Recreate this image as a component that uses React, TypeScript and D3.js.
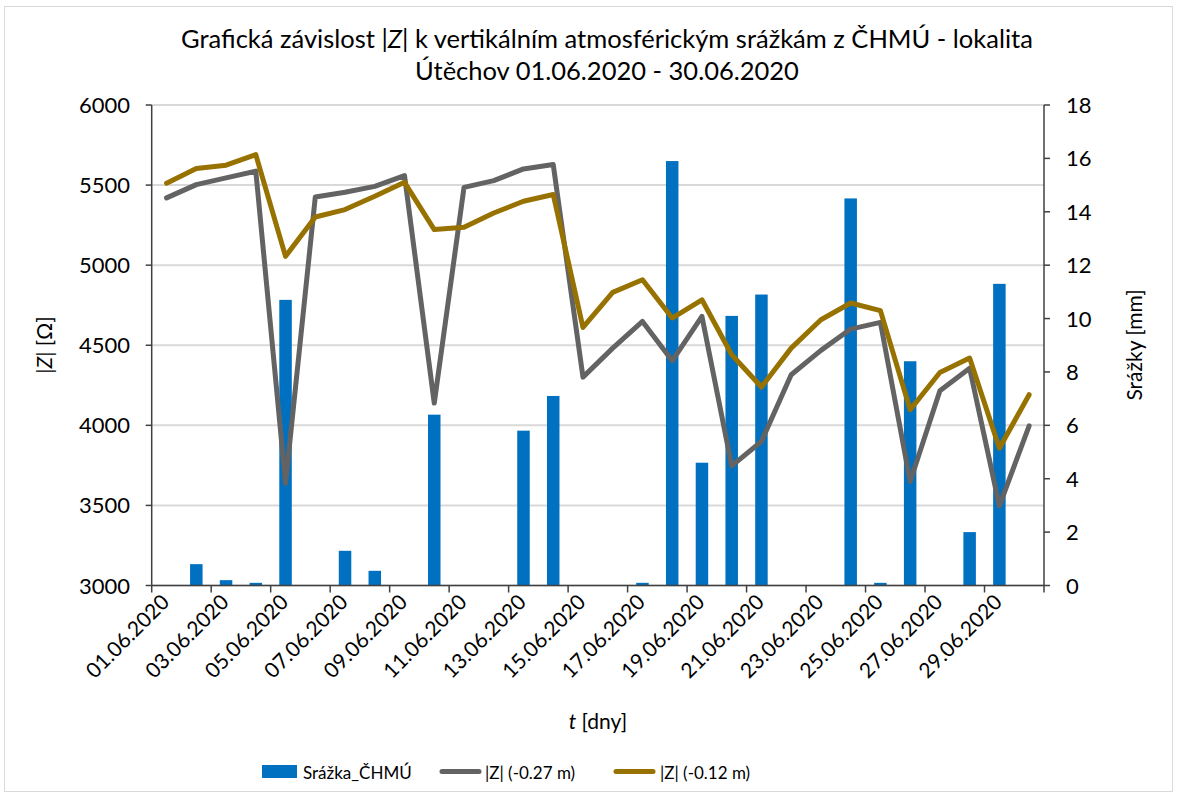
import React from "react";
import * as d3 from "d3";

const dates: string[] = Array.from({ length: 30 }, (_, i) =>
  `${String(i + 1).padStart(2, "0")}.06.2020`
);

const rain: number[] = [
  0, 0.8, 0.2, 0.1, 10.7, 0, 1.3, 0.55, 0, 6.4,
  0, 0, 5.8, 7.1, 0, 0, 0.1, 15.9, 4.6, 10.1,
  10.9, 0, 0, 14.5, 0.1, 8.4, 0, 2.0, 11.3, 0,
];

const z027: number[] = [
  5420, 5503, 5545, 5587, 3639, 5426, 5455, 5492, 5559, 4139,
  5486, 5528, 5601, 5628, 4301, 4482, 4649, 4403, 4680, 3747,
  3899, 4316, 4468, 4601, 4643, 3649, 4216, 4357, 3497, 3997,
];

const z012: number[] = [
  5512, 5603, 5624, 5690, 5055, 5301, 5347, 5430, 5517, 5222,
  5236, 5326, 5399, 5441, 4611, 4830, 4909, 4670, 4784, 4441,
  4239, 4482, 4659, 4764, 4716, 4097, 4330, 4420, 3857, 4191,
];

const leftTicks: number[] = [3000, 3500, 4000, 4500, 5000, 5500, 6000];
const rightTicks: number[] = [0, 2, 4, 6, 8, 10, 12, 14, 16, 18];

const FONT = "Lato, 'Open Sans', sans-serif";

export default function App() {
  const W = 1178;
  const H = 798;
  const left = 151.7;
  const right = 1044;
  const top = 105;
  const bottom = 585.5;

  const x = d3.scaleBand<string>().domain(dates).range([left, right]).padding(0);
  const yL = d3.scaleLinear().domain([3000, 6000]).range([bottom, top]);
  const yR = d3.scaleLinear().domain([0, 18]).range([bottom, top]);
  const bw = x.bandwidth() * 0.42;
  const cx = (i: number) => (x(dates[i]) as number) + x.bandwidth() / 2;

  const line = d3
    .line<number>()
    .x((_, i) => cx(i))
    .y((d) => yL(d));

  const tickIdx = d3.range(0, 31, 2);

  return (
    <svg width={W} height={H} style={{ display: "block", position: "absolute", left: 0, top: 0 }}>
      <rect x={0} y={0} width={W} height={H} fill="#fff" />
      <rect x={4.5} y={6.5} width={1168} height={785} fill="#fff" stroke="#d9d9d9" strokeWidth={1} />
      {/* Title */}
      <text x={607} y={48} textAnchor="middle" fontFamily={FONT} fontSize={25.5} fill="#000">
        Grafická závislost |<tspan fontStyle="italic">Z</tspan>| k vertikálním atmosférickým srážkám z ČHMÚ - lokalita
      </text>
      <text x={607} y={80} textAnchor="middle" fontFamily={FONT} fontSize={25.5} fill="#000">
        Útěchov 01.06.2020 - 30.06.2020
      </text>

      {/* gridlines */}
      {leftTicks.map((t) => (
        <line key={"g" + t} x1={left} x2={right} y1={yL(t)} y2={yL(t)} stroke="#d9d9d9" strokeWidth={2} />
      ))}

      {/* bars */}
      {rain.map((r, i) =>
        r > 0 ? (
          <rect
            key={"b" + i}
            x={cx(i) - bw / 2}
            y={yR(r)}
            width={bw}
            height={bottom - yR(r)}
            fill="#0070c0"
          />
        ) : null
      )}

      {/* lines */}
      <path d={line(z027) || ""} fill="none" stroke="#636363" strokeWidth={5} strokeLinejoin="round" strokeLinecap="round" />
      <path d={line(z012) || ""} fill="none" stroke="#977200" strokeWidth={5} strokeLinejoin="round" strokeLinecap="round" />

      {/* axes */}
      <line x1={left} x2={left} y1={top} y2={bottom} stroke="#404040" strokeWidth={1.5} />
      <line x1={right} x2={right} y1={top} y2={bottom} stroke="#404040" strokeWidth={1.5} />
      <line x1={left} x2={right} y1={bottom} y2={bottom} stroke="#404040" strokeWidth={1.5} />
      {leftTicks.map((t) => (
        <g key={"lt" + t}>
          <line x1={left - 6} x2={left} y1={yL(t)} y2={yL(t)} stroke="#404040" strokeWidth={1.5} />
          <text x={130} y={yL(t) + 8} textAnchor="end" fontFamily={FONT} fontSize={22} fill="#000">
            {t}
          </text>
        </g>
      ))}
      {rightTicks.map((t) => (
        <g key={"rt" + t}>
          <line x1={right} x2={right + 6} y1={yR(t)} y2={yR(t)} stroke="#404040" strokeWidth={1.5} />
          <text x={1066} y={yR(t) + 8} textAnchor="start" fontFamily={FONT} fontSize={22} fill="#000">
            {t}
          </text>
        </g>
      ))}
      {tickIdx.map((k) => {
        const xx = left + k * x.bandwidth();
        return <line key={"xt" + k} x1={xx} x2={xx} y1={bottom} y2={bottom + 7} stroke="#404040" strokeWidth={1.5} />;
      })}
      {dates.map((d, i) =>
        i % 2 === 0 ? (
          <text
            key={"xl" + i}
            transform={`translate(${cx(i) + 4},${bottom + 18}) rotate(-45)`}
            textAnchor="end"
            fontFamily={FONT}
            fontSize={21}
            fill="#000"
          >
            {d}
          </text>
        ) : null
      )}

      {/* axis titles */}
      <text x={598} y={729} textAnchor="middle" fontFamily={FONT} fontSize={21} fill="#000">
        <tspan fontStyle="italic">t</tspan> [dny]
      </text>
      <text transform={`translate(52,345) rotate(-90)`} textAnchor="middle" fontFamily={FONT} fontSize={21} fill="#000">
        |<tspan fontStyle="italic">Z</tspan>| [Ω]
      </text>
      <text transform={`translate(1142,345) rotate(-90)`} textAnchor="middle" fontFamily={FONT} fontSize={21} fill="#000">
        Srážky [mm]
      </text>

      {/* legend */}
      <rect x={262} y={765} width={35} height={13} fill="#0070c0" />
      <text x={303} y={779} fontFamily={FONT} fontSize={17} fill="#000">Srážka_ČHMÚ</text>
      <line x1={442} x2={479} y1={771.5} y2={771.5} stroke="#636363" strokeWidth={5} strokeLinecap="round" />
      <text x={485} y={779} fontFamily={FONT} fontSize={17} fill="#000">|Z| (-0.27 m)</text>
      <line x1={616} x2={653} y1={771.5} y2={771.5} stroke="#977200" strokeWidth={5} strokeLinecap="round" />
      <text x={660} y={779} fontFamily={FONT} fontSize={17} fill="#000">|Z| (-0.12 m)</text>
    </svg>
  );
}
